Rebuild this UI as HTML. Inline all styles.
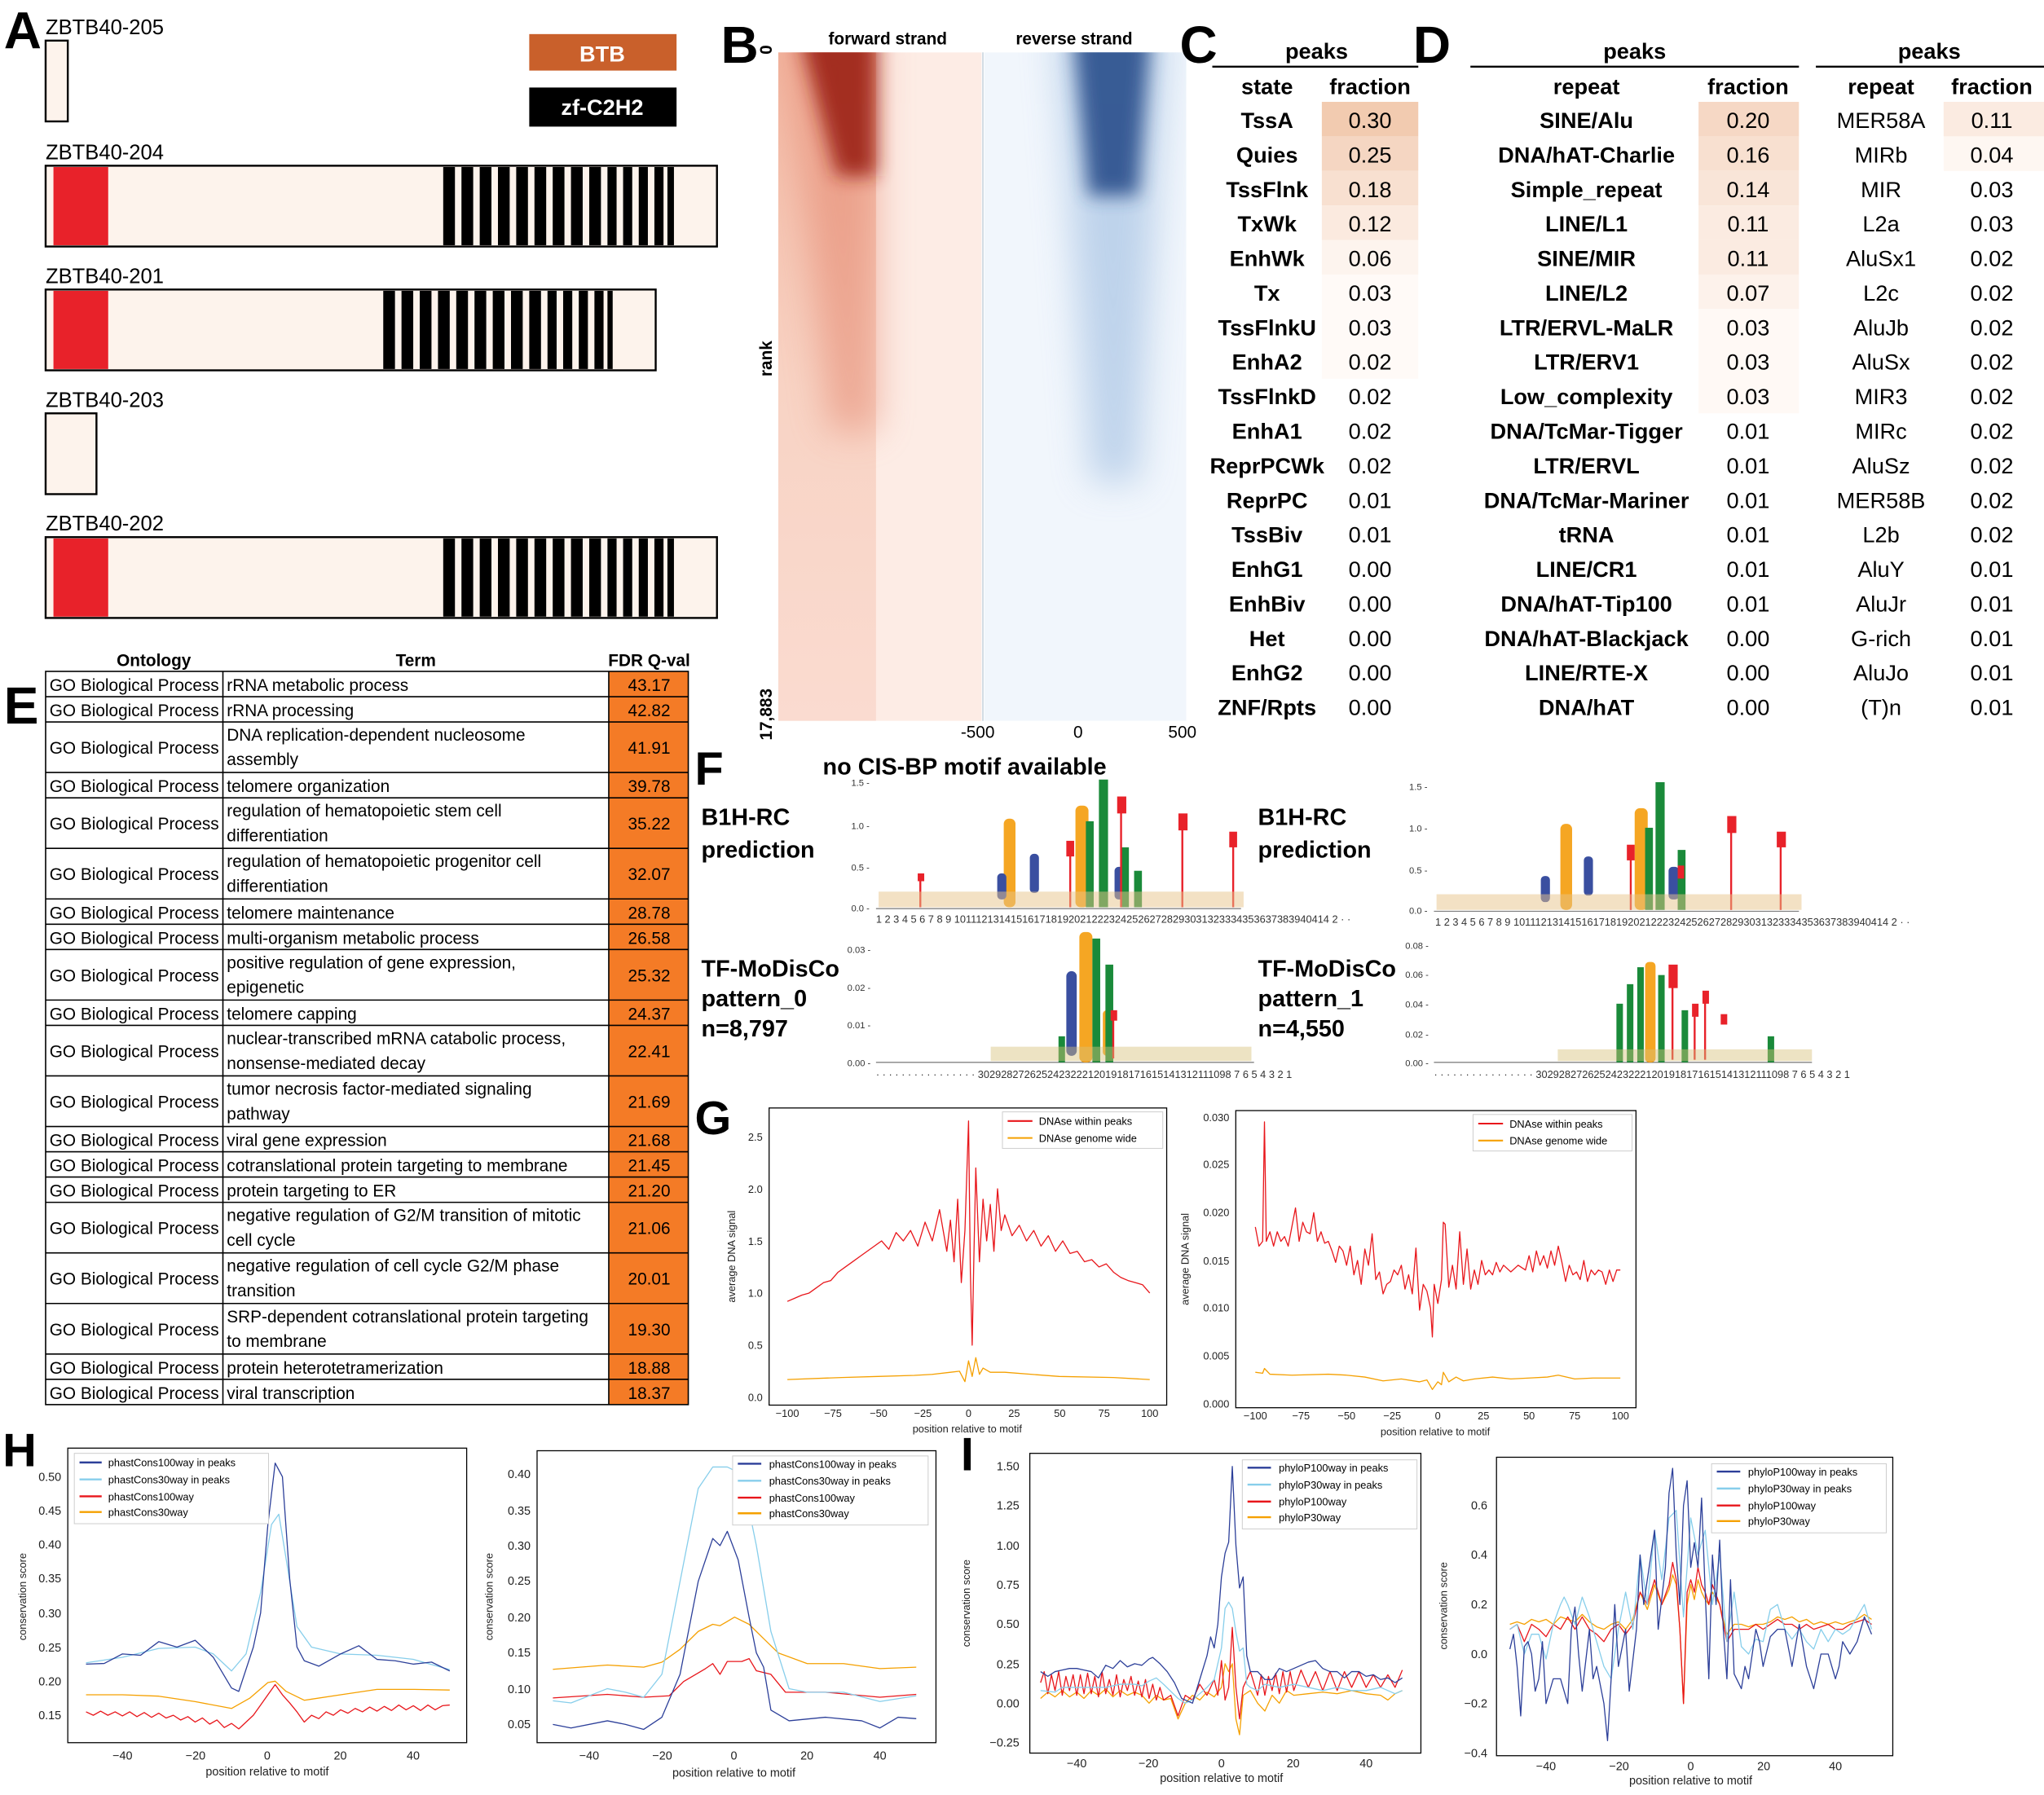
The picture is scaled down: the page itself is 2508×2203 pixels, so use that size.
<!DOCTYPE html>
<html><head><meta charset="utf-8"><style>
html,body{margin:0;padding:0;background:#fff}
svg{display:block}
text{font-family:"Liberation Sans",sans-serif}
.b{font-weight:bold}
.t{font-size:17px;font-weight:bold;text-anchor:middle}
.n{font-size:17px;text-anchor:middle}
.e{font-size:13px}
.k{font-size:8px;fill:#222}
.k9{font-size:9px;fill:#222}
.ax{fill:none;stroke:#000;stroke-width:0.8}
.s{fill:none;stroke-width:1.3;vector-effect:non-scaling-stroke;stroke-linejoin:round}
.lg{font-size:8px}
</style></head><body>
<svg width="2508" height="2203" viewBox="0 0 1568 1377" xmlns="http://www.w3.org/2000/svg">
<defs>
<filter id="bl" x="-50%" y="-50%" width="200%" height="200%"><feGaussianBlur stdDeviation="7"/></filter>
<filter id="bl2" x="-50%" y="-50%" width="200%" height="200%"><feGaussianBlur stdDeviation="14"/></filter>
<linearGradient id="rs" x1="0" y1="0" x2="0" y2="1"><stop offset="0" stop-color="#f3b9a4"/><stop offset="0.5" stop-color="#f8d3c4"/><stop offset="1" stop-color="#fadbd0"/></linearGradient>
</defs>

<!-- Panel A -->
<text x="3" y="37" class="b" font-size="40">A</text>
<g font-size="16">
<text x="35" y="26">ZBTB40-205</text>
<text x="35" y="122">ZBTB40-204</text>
<text x="35" y="217">ZBTB40-201</text>
<text x="35" y="312">ZBTB40-203</text>
<text x="35" y="407">ZBTB40-202</text>
</g>
<g stroke="#000" stroke-width="1.5" fill="#fdf3ec">
<rect x="35" y="31" width="17" height="62"/>
<rect x="35" y="127" width="515" height="62"/>
<rect x="35" y="222" width="468" height="62"/>
<rect x="35" y="317" width="39" height="62"/>
<rect x="35" y="412" width="515" height="62"/>
</g>
<g fill="#e8222a"><rect x="41" y="128" width="42" height="60"/><rect x="41" y="223" width="42" height="60"/><rect x="41" y="413" width="42" height="60"/></g>
<g fill="#000">
<rect x="340" y="128" width="9" height="60"/><rect x="354" y="128" width="9" height="60"/><rect x="368" y="128" width="9" height="60"/><rect x="382" y="128" width="9" height="60"/><rect x="396" y="128" width="9" height="60"/><rect x="410" y="128" width="9" height="60"/><rect x="424" y="128" width="9" height="60"/><rect x="438" y="128" width="9" height="60"/><rect x="452" y="128" width="9" height="60"/><rect x="466" y="128" width="7" height="60"/><rect x="478" y="128" width="7" height="60"/><rect x="490" y="128" width="7" height="60"/><rect x="502" y="128" width="7" height="60"/><rect x="512" y="128" width="5" height="60"/>
<rect x="294" y="223" width="9" height="60"/><rect x="308" y="223" width="9" height="60"/><rect x="322" y="223" width="9" height="60"/><rect x="336" y="223" width="9" height="60"/><rect x="350" y="223" width="9" height="60"/><rect x="364" y="223" width="9" height="60"/><rect x="378" y="223" width="9" height="60"/><rect x="392" y="223" width="9" height="60"/><rect x="406" y="223" width="9" height="60"/><rect x="420" y="223" width="7" height="60"/><rect x="432" y="223" width="7" height="60"/><rect x="444" y="223" width="7" height="60"/><rect x="456" y="223" width="7" height="60"/><rect x="466" y="223" width="4" height="60"/>
<rect x="340" y="413" width="9" height="60"/><rect x="354" y="413" width="9" height="60"/><rect x="368" y="413" width="9" height="60"/><rect x="382" y="413" width="9" height="60"/><rect x="396" y="413" width="9" height="60"/><rect x="410" y="413" width="9" height="60"/><rect x="424" y="413" width="9" height="60"/><rect x="438" y="413" width="9" height="60"/><rect x="452" y="413" width="9" height="60"/><rect x="466" y="413" width="7" height="60"/><rect x="478" y="413" width="7" height="60"/><rect x="490" y="413" width="7" height="60"/><rect x="502" y="413" width="7" height="60"/><rect x="512" y="413" width="5" height="60"/>
</g>
<rect x="406" y="26" width="113" height="28" fill="#c9602b"/>
<text x="462" y="47" fill="#fff" class="b" font-size="17" text-anchor="middle">BTB</text>
<rect x="406" y="67" width="113" height="30" fill="#000"/>
<text x="462" y="88" fill="#fff" class="b" font-size="17" text-anchor="middle">zf-C2H2</text>

<!-- Panel B -->
<text x="553" y="48" class="b" font-size="40">B</text>
<svg x="597" y="40" width="156" height="513" overflow="hidden">
<rect x="0" y="0" width="156" height="513" fill="#fdece5"/>
<rect x="0" y="0" width="75" height="513" fill="url(#rs)"/>
<polygon points="5,-20 75,-20 75,290 40,290" fill="#e58a72" opacity="0.6" filter="url(#bl2)"/>
<polygon points="15,-20 75,-20 75,95 45,95" fill="#9c2318" opacity="0.9" filter="url(#bl)"/>
</svg>
<svg x="755" y="40" width="155" height="513" overflow="hidden">
<rect x="0" y="0" width="155" height="513" fill="#f1f6fc"/>
<polygon points="55,-20 140,-20 118,330 82,330" fill="#9bbbe0" opacity="0.6" filter="url(#bl2)"/>
<polygon points="68,-20 128,-20 118,110 80,110" fill="#2c4f8c" opacity="0.9" filter="url(#bl)"/>
</svg>
<line x1="754" y1="40" x2="754" y2="553" stroke="#c8d4de" stroke-width="1"/>
<text x="681" y="34" class="b" font-size="13" text-anchor="middle">forward strand</text>
<text x="824" y="34" class="b" font-size="13" text-anchor="middle">reverse strand</text>
<text transform="translate(592,275) rotate(-90)" class="b" font-size="13" text-anchor="middle">rank</text>
<text transform="translate(592,38) rotate(-90)" class="b" font-size="13" text-anchor="middle">0</text>
<text transform="translate(592,548) rotate(-90)" class="b" font-size="13" text-anchor="middle">17,883</text>
<text x="750" y="566" font-size="13" text-anchor="middle">-500</text>
<text x="827" y="566" font-size="13" text-anchor="middle">0</text>
<text x="907" y="566" font-size="13" text-anchor="middle">500</text>

<!-- Panel C -->
<text x="905" y="48" class="b" font-size="40">C</text>
<text x="1010" y="45" class="t">peaks</text>
<line x1="930" y1="51" x2="1088" y2="51" stroke="#000" stroke-width="1.5"/>
<text x="972" y="72" class="t">state</text><text x="1051" y="72" class="t">fraction</text>
<rect x="1014" y="78" width="74" height="26.5" fill="#f2cbb0"/>
<rect x="1014" y="104.5" width="74" height="26.5" fill="#f5d6c2"/>
<rect x="1014" y="131" width="74" height="26.5" fill="#f8e0d0"/>
<rect x="1014" y="157.5" width="74" height="26.5" fill="#fbeadf"/>
<rect x="1014" y="184" width="74" height="26.5" fill="#fdf4ee"/>
<rect x="1014" y="210.5" width="74" height="80" fill="#fffaf7"/>
<g>
<text x="972" y="98" class="t">TssA</text><text x="1051" y="98" class="n">0.30</text>
<text x="972" y="124.5" class="t">Quies</text><text x="1051" y="124.5" class="n">0.25</text>
<text x="972" y="151" class="t">TssFlnk</text><text x="1051" y="151" class="n">0.18</text>
<text x="972" y="177.5" class="t">TxWk</text><text x="1051" y="177.5" class="n">0.12</text>
<text x="972" y="204" class="t">EnhWk</text><text x="1051" y="204" class="n">0.06</text>
<text x="972" y="230.5" class="t">Tx</text><text x="1051" y="230.5" class="n">0.03</text>
<text x="972" y="257" class="t">TssFlnkU</text><text x="1051" y="257" class="n">0.03</text>
<text x="972" y="283.5" class="t">EnhA2</text><text x="1051" y="283.5" class="n">0.02</text>
<text x="972" y="310" class="t">TssFlnkD</text><text x="1051" y="310" class="n">0.02</text>
<text x="972" y="336.5" class="t">EnhA1</text><text x="1051" y="336.5" class="n">0.02</text>
<text x="972" y="363" class="t">ReprPCWk</text><text x="1051" y="363" class="n">0.02</text>
<text x="972" y="389.5" class="t">ReprPC</text><text x="1051" y="389.5" class="n">0.01</text>
<text x="972" y="416" class="t">TssBiv</text><text x="1051" y="416" class="n">0.01</text>
<text x="972" y="442.5" class="t">EnhG1</text><text x="1051" y="442.5" class="n">0.00</text>
<text x="972" y="469" class="t">EnhBiv</text><text x="1051" y="469" class="n">0.00</text>
<text x="972" y="495.5" class="t">Het</text><text x="1051" y="495.5" class="n">0.00</text>
<text x="972" y="522" class="t">EnhG2</text><text x="1051" y="522" class="n">0.00</text>
<text x="972" y="548.5" class="t">ZNF/Rpts</text><text x="1051" y="548.5" class="n">0.00</text>
</g>

<!-- Panel D -->
<text x="1084" y="48" class="b" font-size="40">D</text>
<text x="1254" y="45" class="t">peaks</text>
<line x1="1128" y1="51" x2="1380" y2="51" stroke="#000" stroke-width="1.5"/>
<text x="1480" y="45" class="t">peaks</text>
<line x1="1393" y1="51" x2="1568" y2="51" stroke="#000" stroke-width="1.5"/>
<text x="1217" y="72" class="t">repeat</text><text x="1341" y="72" class="t">fraction</text>
<text x="1443" y="72" class="t">repeat</text><text x="1528" y="72" class="t">fraction</text>
<rect x="1303" y="78" width="77" height="26.5" fill="#f6d8c5"/>
<rect x="1303" y="104.5" width="77" height="26.5" fill="#f8e0d0"/>
<rect x="1303" y="131" width="77" height="26.5" fill="#f9e5d8"/>
<rect x="1303" y="157.5" width="77" height="26.5" fill="#fbebe1"/>
<rect x="1303" y="184" width="77" height="26.5" fill="#fbebe1"/>
<rect x="1303" y="210.5" width="77" height="26.5" fill="#fdf2eb"/>
<rect x="1303" y="237" width="77" height="80" fill="#fff9f5"/>
<rect x="1491" y="78" width="77" height="26.5" fill="#fbebe1"/>
<rect x="1491" y="104.5" width="77" height="26.5" fill="#fef7f2"/>
<g>
<text x="1217" y="98" class="t">SINE/Alu</text><text x="1341" y="98" class="n">0.20</text><text x="1443" y="98" class="n">MER58A</text><text x="1528" y="98" class="n">0.11</text>
<text x="1217" y="124.5" class="t">DNA/hAT-Charlie</text><text x="1341" y="124.5" class="n">0.16</text><text x="1443" y="124.5" class="n">MIRb</text><text x="1528" y="124.5" class="n">0.04</text>
<text x="1217" y="151" class="t">Simple_repeat</text><text x="1341" y="151" class="n">0.14</text><text x="1443" y="151" class="n">MIR</text><text x="1528" y="151" class="n">0.03</text>
<text x="1217" y="177.5" class="t">LINE/L1</text><text x="1341" y="177.5" class="n">0.11</text><text x="1443" y="177.5" class="n">L2a</text><text x="1528" y="177.5" class="n">0.03</text>
<text x="1217" y="204" class="t">SINE/MIR</text><text x="1341" y="204" class="n">0.11</text><text x="1443" y="204" class="n">AluSx1</text><text x="1528" y="204" class="n">0.02</text>
<text x="1217" y="230.5" class="t">LINE/L2</text><text x="1341" y="230.5" class="n">0.07</text><text x="1443" y="230.5" class="n">L2c</text><text x="1528" y="230.5" class="n">0.02</text>
<text x="1217" y="257" class="t">LTR/ERVL-MaLR</text><text x="1341" y="257" class="n">0.03</text><text x="1443" y="257" class="n">AluJb</text><text x="1528" y="257" class="n">0.02</text>
<text x="1217" y="283.5" class="t">LTR/ERV1</text><text x="1341" y="283.5" class="n">0.03</text><text x="1443" y="283.5" class="n">AluSx</text><text x="1528" y="283.5" class="n">0.02</text>
<text x="1217" y="310" class="t">Low_complexity</text><text x="1341" y="310" class="n">0.03</text><text x="1443" y="310" class="n">MIR3</text><text x="1528" y="310" class="n">0.02</text>
<text x="1217" y="336.5" class="t">DNA/TcMar-Tigger</text><text x="1341" y="336.5" class="n">0.01</text><text x="1443" y="336.5" class="n">MIRc</text><text x="1528" y="336.5" class="n">0.02</text>
<text x="1217" y="363" class="t">LTR/ERVL</text><text x="1341" y="363" class="n">0.01</text><text x="1443" y="363" class="n">AluSz</text><text x="1528" y="363" class="n">0.02</text>
<text x="1217" y="389.5" class="t">DNA/TcMar-Mariner</text><text x="1341" y="389.5" class="n">0.01</text><text x="1443" y="389.5" class="n">MER58B</text><text x="1528" y="389.5" class="n">0.02</text>
<text x="1217" y="416" class="t">tRNA</text><text x="1341" y="416" class="n">0.01</text><text x="1443" y="416" class="n">L2b</text><text x="1528" y="416" class="n">0.02</text>
<text x="1217" y="442.5" class="t">LINE/CR1</text><text x="1341" y="442.5" class="n">0.01</text><text x="1443" y="442.5" class="n">AluY</text><text x="1528" y="442.5" class="n">0.01</text>
<text x="1217" y="469" class="t">DNA/hAT-Tip100</text><text x="1341" y="469" class="n">0.01</text><text x="1443" y="469" class="n">AluJr</text><text x="1528" y="469" class="n">0.01</text>
<text x="1217" y="495.5" class="t">DNA/hAT-Blackjack</text><text x="1341" y="495.5" class="n">0.00</text><text x="1443" y="495.5" class="n">G-rich</text><text x="1528" y="495.5" class="n">0.01</text>
<text x="1217" y="522" class="t">LINE/RTE-X</text><text x="1341" y="522" class="n">0.00</text><text x="1443" y="522" class="n">AluJo</text><text x="1528" y="522" class="n">0.01</text>
<text x="1217" y="548.5" class="t">DNA/hAT</text><text x="1341" y="548.5" class="n">0.00</text><text x="1443" y="548.5" class="n">(T)n</text><text x="1528" y="548.5" class="n">0.01</text>
</g>

<!-- Panel E -->
<text x="3" y="555" class="b" font-size="40">E</text>
<text x="118" y="511" class="b" font-size="13" text-anchor="middle">Ontology</text>
<text x="319" y="511" class="b" font-size="13" text-anchor="middle">Term</text>
<text x="498" y="511" class="b" font-size="13" text-anchor="middle">FDR Q-val</text>
<rect x="467" y="515" width="61" height="562.6" fill="#f47b26"/>
<g stroke="#000" stroke-width="1">
<rect x="35" y="515" width="493" height="562.6" fill="none"/>
<line x1="171" y1="515" x2="171" y2="1077.6"/><line x1="467" y1="515" x2="467" y2="1077.6"/>
<line x1="35" y1="534.4" x2="528" y2="534.4"/><line x1="35" y1="553.8" x2="528" y2="553.8"/><line x1="35" y1="592.6" x2="528" y2="592.6"/><line x1="35" y1="612" x2="528" y2="612"/><line x1="35" y1="650.8" x2="528" y2="650.8"/><line x1="35" y1="689.6" x2="528" y2="689.6"/><line x1="35" y1="709" x2="528" y2="709"/><line x1="35" y1="728.4" x2="528" y2="728.4"/><line x1="35" y1="767.2" x2="528" y2="767.2"/><line x1="35" y1="786.6" x2="528" y2="786.6"/><line x1="35" y1="825.4" x2="528" y2="825.4"/><line x1="35" y1="864.2" x2="528" y2="864.2"/><line x1="35" y1="883.6" x2="528" y2="883.6"/><line x1="35" y1="903" x2="528" y2="903"/><line x1="35" y1="922.4" x2="528" y2="922.4"/><line x1="35" y1="961.2" x2="528" y2="961.2"/><line x1="35" y1="1000" x2="528" y2="1000"/><line x1="35" y1="1038.8" x2="528" y2="1038.8"/><line x1="35" y1="1058.2" x2="528" y2="1058.2"/>
</g>
<g class="e">
<text x="38" y="530">GO Biological Process</text><text x="174" y="530">rRNA metabolic process</text><text x="498" y="530" text-anchor="middle">43.17</text>
<text x="38" y="549.4">GO Biological Process</text><text x="174" y="549.4">rRNA processing</text><text x="498" y="549.4" text-anchor="middle">42.82</text>
<text x="38" y="578">GO Biological Process</text><text x="174" y="568">DNA replication-dependent nucleosome</text><text x="174" y="587">assembly</text><text x="498" y="578" text-anchor="middle">41.91</text>
<text x="38" y="607.6">GO Biological Process</text><text x="174" y="607.6">telomere organization</text><text x="498" y="607.6" text-anchor="middle">39.78</text>
<text x="38" y="636.4">GO Biological Process</text><text x="174" y="626.4">regulation of hematopoietic stem cell</text><text x="174" y="645.4">differentiation</text><text x="498" y="636.4" text-anchor="middle">35.22</text>
<text x="38" y="675.2">GO Biological Process</text><text x="174" y="665.2">regulation of hematopoietic progenitor cell</text><text x="174" y="684.2">differentiation</text><text x="498" y="675.2" text-anchor="middle">32.07</text>
<text x="38" y="704.6">GO Biological Process</text><text x="174" y="704.6">telomere maintenance</text><text x="498" y="704.6" text-anchor="middle">28.78</text>
<text x="38" y="724">GO Biological Process</text><text x="174" y="724">multi-organism metabolic process</text><text x="498" y="724" text-anchor="middle">26.58</text>
<text x="38" y="752.8">GO Biological Process</text><text x="174" y="742.8">positive regulation of gene expression,</text><text x="174" y="761.8">epigenetic</text><text x="498" y="752.8" text-anchor="middle">25.32</text>
<text x="38" y="782.2">GO Biological Process</text><text x="174" y="782.2">telomere capping</text><text x="498" y="782.2" text-anchor="middle">24.37</text>
<text x="38" y="811">GO Biological Process</text><text x="174" y="801">nuclear-transcribed mRNA catabolic process,</text><text x="174" y="820">nonsense-mediated decay</text><text x="498" y="811" text-anchor="middle">22.41</text>
<text x="38" y="849.8">GO Biological Process</text><text x="174" y="839.8">tumor necrosis factor-mediated signaling</text><text x="174" y="858.8">pathway</text><text x="498" y="849.8" text-anchor="middle">21.69</text>
<text x="38" y="879.2">GO Biological Process</text><text x="174" y="879.2">viral gene expression</text><text x="498" y="879.2" text-anchor="middle">21.68</text>
<text x="38" y="898.6">GO Biological Process</text><text x="174" y="898.6">cotranslational protein targeting to membrane</text><text x="498" y="898.6" text-anchor="middle">21.45</text>
<text x="38" y="918">GO Biological Process</text><text x="174" y="918">protein targeting to ER</text><text x="498" y="918" text-anchor="middle">21.20</text>
<text x="38" y="946.8">GO Biological Process</text><text x="174" y="936.8">negative regulation of G2/M transition of mitotic</text><text x="174" y="955.8">cell cycle</text><text x="498" y="946.8" text-anchor="middle">21.06</text>
<text x="38" y="985.6">GO Biological Process</text><text x="174" y="975.6">negative regulation of cell cycle G2/M phase</text><text x="174" y="994.6">transition</text><text x="498" y="985.6" text-anchor="middle">20.01</text>
<text x="38" y="1024.4">GO Biological Process</text><text x="174" y="1014.4">SRP-dependent cotranslational protein targeting</text><text x="174" y="1033.4">to membrane</text><text x="498" y="1024.4" text-anchor="middle">19.30</text>
<text x="38" y="1053.8">GO Biological Process</text><text x="174" y="1053.8">protein heterotetramerization</text><text x="498" y="1053.8" text-anchor="middle">18.88</text>
<text x="38" y="1073.2">GO Biological Process</text><text x="174" y="1073.2">viral transcription</text><text x="498" y="1073.2" text-anchor="middle">18.37</text>
</g>

<!-- Panel F -->
<text x="533" y="602" class="b" font-size="36">F</text>
<text x="740" y="594" class="b" font-size="18" text-anchor="middle">no CIS-BP motif available</text>
<g class="b" font-size="18">
<text x="538" y="633">B1H-RC</text><text x="538" y="658">prediction</text>
<text x="965" y="633">B1H-RC</text><text x="965" y="658">prediction</text>
<text x="538" y="749">TF-MoDisCo</text><text x="538" y="772">pattern_0</text><text x="538" y="795">n=8,797</text>
<text x="965" y="749">TF-MoDisCo</text><text x="965" y="772">pattern_1</text><text x="965" y="795">n=4,550</text>
</g>
<g font-size="7" fill="#333">
<text x="653" y="603">1.5 -</text><text x="653" y="636">1.0 -</text><text x="653" y="668">0.5 -</text><text x="653" y="699">0.0 -</text>
<text x="1081" y="606">1.5 -</text><text x="1081" y="638">1.0 -</text><text x="1081" y="670">0.5 -</text><text x="1081" y="701">0.0 -</text>
<text x="650" y="731">0.03 -</text><text x="650" y="760">0.02 -</text><text x="650" y="789">0.01 -</text><text x="650" y="818">0.00 -</text>
<text x="1078" y="728">0.08 -</text><text x="1078" y="750">0.06 -</text><text x="1078" y="773">0.04 -</text><text x="1078" y="796">0.02 -</text><text x="1078" y="818">0.00 -</text>
<text x="672" y="708" font-size="8">1 2 3 4 5 6 7 8 9 10111213141516171819202122232425262728293031323334353637383940414 2 · ·</text>
<text x="1101" y="710" font-size="8">1 2 3 4 5 6 7 8 9 10111213141516171819202122232425262728293031323334353637383940414 2 · ·</text>
<text x="672" y="827" font-size="8">· · · · · · · · · · · · · · · · 30292827262524232221201918171615141312111098 7 6 5 4 3 2 1</text>
<text x="1100" y="827" font-size="8">· · · · · · · · · · · · · · · · 30292827262524232221201918171615141312111098 7 6 5 4 3 2 1</text>
</g>
<g stroke="#555" stroke-width="0.6"><line x1="672" y1="697" x2="952" y2="697"/><line x1="1100" y1="699" x2="1380" y2="699"/><line x1="672" y1="815" x2="962" y2="815"/><line x1="1100" y1="815" x2="1390" y2="815"/></g>
<g>
<g fill="#f5a623"><rect x="770" y="628" width="9" height="68" rx="4"/><rect x="825" y="618" width="10" height="78" rx="4"/></g>
<g fill="#3a4fa0"><rect x="765" y="670" width="7" height="20" rx="3"/><rect x="790" y="655" width="7" height="30" rx="3"/><rect x="855" y="665" width="8" height="25" rx="3"/></g>
<g fill="#1a8a3a"><rect x="833" y="630" width="6" height="66"/><rect x="843" y="598" width="7" height="98"/><rect x="860" y="650" width="6" height="46"/><rect x="870" y="668" width="6" height="28"/></g>
<g fill="#e8222a"><rect x="818" y="645" width="6" height="12"/><rect x="857" y="611" width="7" height="13"/><rect x="904" y="624" width="7" height="13"/><rect x="943" y="638" width="6" height="12"/><rect x="704" y="670" width="5" height="6"/></g>
<g stroke="#e8222a" stroke-width="1.5"><line x1="821" y1="650" x2="821" y2="696"/><line x1="860" y1="615" x2="860" y2="696"/><line x1="907" y1="630" x2="907" y2="696"/><line x1="946" y1="642" x2="946" y2="696"/><line x1="706" y1="672" x2="706" y2="696"/></g>
<rect x="674" y="684" width="280" height="12" fill="#e8c38a" opacity="0.5"/>
<g fill="#f5a623"><rect x="1197" y="632" width="9" height="66" rx="4"/><rect x="1254" y="620" width="10" height="78" rx="4"/></g>
<g fill="#3a4fa0"><rect x="1182" y="672" width="7" height="20" rx="3"/><rect x="1215" y="657" width="7" height="30" rx="3"/><rect x="1280" y="665" width="8" height="25" rx="3"/></g>
<g fill="#1a8a3a"><rect x="1262" y="635" width="6" height="63"/><rect x="1270" y="600" width="7" height="98"/><rect x="1287" y="652" width="6" height="46"/></g>
<g fill="#e8222a"><rect x="1248" y="648" width="6" height="12"/><rect x="1325" y="626" width="7" height="13"/><rect x="1363" y="638" width="7" height="12"/><rect x="1287" y="664" width="5" height="10"/></g>
<g stroke="#e8222a" stroke-width="1.5"><line x1="1251" y1="652" x2="1251" y2="698"/><line x1="1328" y1="630" x2="1328" y2="698"/><line x1="1366" y1="642" x2="1366" y2="698"/></g>
<rect x="1102" y="686" width="280" height="12" fill="#e8c38a" opacity="0.5"/>
<g fill="#3a4fa0"><rect x="818" y="745" width="8" height="65" rx="4"/></g>
<g fill="#f5a623"><rect x="828" y="715" width="10" height="100" rx="4"/><rect x="846" y="775" width="7" height="35" rx="3"/></g>
<g fill="#1a8a3a"><rect x="838" y="720" width="6" height="95"/><rect x="848" y="740" width="6" height="75"/><rect x="812" y="795" width="5" height="20"/></g>
<rect x="852" y="775" width="5" height="8" fill="#e8222a"/><line x1="854" y1="780" x2="854" y2="812" stroke="#e8222a" stroke-width="1.5"/>
<rect x="760" y="803" width="200" height="11" fill="#d7c07a" opacity="0.45"/>
<g fill="#1a8a3a"><rect x="1240" y="770" width="5" height="45"/><rect x="1248" y="755" width="5" height="60"/><rect x="1256" y="742" width="5" height="73"/><rect x="1272" y="748" width="5" height="67"/><rect x="1290" y="775" width="5" height="40"/><rect x="1356" y="795" width="5" height="20"/></g>
<rect x="1262" y="738" width="8" height="77" rx="3" fill="#f5a623"/>
<g fill="#e8222a"><rect x="1280" y="740" width="7" height="18"/><rect x="1298" y="770" width="5" height="10"/><rect x="1306" y="760" width="5" height="10"/><rect x="1320" y="778" width="5" height="8"/></g>
<g stroke="#e8222a" stroke-width="1.5"><line x1="1283" y1="750" x2="1283" y2="813"/><line x1="1300" y1="775" x2="1300" y2="813"/><line x1="1308" y1="765" x2="1308" y2="813"/></g>
<rect x="1195" y="805" width="195" height="9" fill="#d7c07a" opacity="0.45"/>
</g>

<!-- Panel G -->
<text x="533" y="870" class="b" font-size="36">G</text>
<rect x="590" y="850" width="305" height="228" class="ax"/>
<rect x="948" y="852" width="307" height="228" class="ax"/>
<g class="k" text-anchor="end">
<text x="585" y="1075">0.0</text><text x="585" y="1035">0.5</text><text x="585" y="995">1.0</text><text x="585" y="955">1.5</text><text x="585" y="915">2.0</text><text x="585" y="875">2.5</text>
<text x="943" y="1080">0.000</text><text x="943" y="1043">0.005</text><text x="943" y="1006">0.010</text><text x="943" y="970">0.015</text><text x="943" y="933">0.020</text><text x="943" y="896">0.025</text><text x="943" y="860">0.030</text>
</g>
<g class="k" text-anchor="middle">
<text x="604" y="1087">−100</text><text x="639" y="1087">−75</text><text x="674" y="1087">−50</text><text x="708" y="1087">−25</text><text x="743" y="1087">0</text><text x="778" y="1087">25</text><text x="813" y="1087">50</text><text x="847" y="1087">75</text><text x="882" y="1087">100</text>
<text x="963" y="1089">−100</text><text x="998" y="1089">−75</text><text x="1033" y="1089">−50</text><text x="1068" y="1089">−25</text><text x="1103" y="1089">0</text><text x="1138" y="1089">25</text><text x="1173" y="1089">50</text><text x="1208" y="1089">75</text><text x="1243" y="1089">100</text>
<text x="742" y="1099">position relative to motif</text><text x="1101" y="1101">position relative to motif</text>
</g>
<text transform="translate(564,964) rotate(-90)" class="k" text-anchor="middle">average DNA signal</text>
<text transform="translate(912,966) rotate(-90)" class="k" text-anchor="middle">average DNA signal</text>
<g transform="translate(743,1072) scale(1.39,-80)">
<polyline class="s" stroke="#f5a000" points="-100,.17 -70,.19 -50,.2 -30,.21 -20,.22 -10,.24 -5,.25 -2,.15 0,.35 2,.2 4,.38 6,.22 8,.28 12,.24 20,.24 50,.2 80,.19 100,.17"/>
<polyline class="s" stroke="#e8161b" points="-100,.92 -96,.95 -92,.98 -88,1.0 -84,1.05 -80,1.1 -76,1.12 -72,1.2 -68,1.25 -64,1.3 -60,1.35 -56,1.4 -52,1.45 -48,1.5 -44,1.42 -40,1.58 -36,1.5 -32,1.6 -28,1.45 -24,1.68 -20,1.5 -16,1.8 -12,1.4 -10,1.7 -8,1.3 -6,1.9 -4,1.1 -2,1.6 0,2.65 1,1.2 2,0.5 3,1.4 4,2.2 6,1.3 8,1.9 10,1.5 12,1.85 14,1.4 16,2.0 18,1.6 20,1.75 24,1.55 28,1.65 32,1.5 36,1.6 40,1.45 44,1.55 48,1.4 52,1.5 56,1.38 60,1.4 64,1.3 68,1.32 72,1.25 76,1.28 80,1.2 84,1.15 88,1.12 92,1.1 96,1.08 100,1.0"/>
</g>
<g transform="translate(1103,1077) scale(1.4,-7333)">
<polyline class="s" stroke="#f5a000" points="-100,.0033 -96,.0032 -95,.0037 -92,.0031 -80,.003 -60,.0031 -50,.003 -40,.0028 -30,.0024 -20,.0026 -10,.0023 -6,.0025 -3,.0015 0,.0023 2,.0020 3,.0033 6,.0023 10,.0028 14,.0024 20,.0026 30,.0028 40,.0026 50,.0027 60,.0028 66,.003 75,.0026 85,.0027 100,.0027"/>
<polyline class="s" stroke="#e8161b" points="-100,.0185 -98,.0165 -96,.017 -95,.0295 -94,.017 -92,.018 -90,.0165 -88,.018 -86,.017 -84,.0175 -82,.0165 -80,.0185 -78,.0205 -76,.017 -74,.019 -72,.018 -70,.0178 -68,.02 -66,.017 -64,.018 -62,.0168 -60,.017 -58,.016 -56,.0148 -54,.0165 -52,.016 -50,.0145 -48,.0165 -46,.0135 -44,.015 -42,.0125 -40,.0162 -38,.0145 -36,.0178 -34,.013 -32,.0138 -30,.0115 -28,.0125 -26,.0128 -24,.014 -22,.0135 -20,.0145 -18,.012 -16,.0135 -14,.0115 -12,.0163 -10,.0098 -8,.0125 -6,.0118 -4,.01 -3,.007 -2,.0125 0,.0105 2,.013 3,.019 4,.0188 6,.0122 8,.0145 10,.012 12,.018 14,.0125 16,.0162 18,.012 20,.014 22,.0125 24,.015 26,.0135 28,.014 30,.0135 32,.0148 34,.0138 36,.0145 40,.0138 44,.0145 48,.014 50,.0155 52,.0138 54,.016 56,.0145 58,.0155 60,.0142 62,.016 64,.0145 66,.0165 68,.0148 70,.0128 72,.0145 74,.0135 76,.0138 78,.013 80,.015 82,.0128 84,.014 86,.0135 88,.014 90,.0138 92,.0125 94,.014 96,.0128 98,.014 100,.014"/>
</g>
<g class="lg">
<rect x="769" y="853" width="123" height="28" fill="#fff" stroke="#ccc" stroke-width="0.6"/>
<line x1="773" y1="860" x2="792" y2="860" stroke="#e8161b" stroke-width="1.3"/><text x="797" y="863">DNAse within peaks</text>
<line x1="773" y1="873" x2="792" y2="873" stroke="#f5a000" stroke-width="1.3"/><text x="797" y="876">DNAse genome wide</text>
<rect x="1130" y="855" width="122" height="28" fill="#fff" stroke="#ccc" stroke-width="0.6"/>
<line x1="1134" y1="862" x2="1153" y2="862" stroke="#e8161b" stroke-width="1.3"/><text x="1158" y="865">DNAse within peaks</text>
<line x1="1134" y1="875" x2="1153" y2="875" stroke="#f5a000" stroke-width="1.3"/><text x="1158" y="878">DNAse genome wide</text>
</g>

<!-- Panel H -->
<text x="2" y="1125" class="b" font-size="36">H</text>
<rect x="52" y="1111" width="306" height="226" class="ax"/>
<rect x="412" y="1113" width="306" height="224" class="ax"/>
<g class="k9" text-anchor="end">
<text x="47" y="1136">0.50</text><text x="47" y="1162">0.45</text><text x="47" y="1188">0.40</text><text x="47" y="1214">0.35</text><text x="47" y="1241">0.30</text><text x="47" y="1267">0.25</text><text x="47" y="1293">0.20</text><text x="47" y="1319">0.15</text>
<text x="407" y="1134">0.40</text><text x="407" y="1162">0.35</text><text x="407" y="1189">0.30</text><text x="407" y="1216">0.25</text><text x="407" y="1244">0.20</text><text x="407" y="1271">0.15</text><text x="407" y="1299">0.10</text><text x="407" y="1326">0.05</text>
</g>
<g class="k9" text-anchor="middle">
<text x="94" y="1350">−40</text><text x="150" y="1350">−20</text><text x="205" y="1350">0</text><text x="261" y="1350">20</text><text x="317" y="1350">40</text>
<text x="452" y="1350">−40</text><text x="508" y="1350">−20</text><text x="563" y="1350">0</text><text x="619" y="1350">20</text><text x="675" y="1350">40</text>
<text x="205" y="1362">position relative to motif</text><text x="563" y="1363">position relative to motif</text>
</g>
<text transform="translate(20,1225) rotate(-90)" class="k" text-anchor="middle">conservation score</text>
<text transform="translate(378,1225) rotate(-90)" class="k" text-anchor="middle">conservation score</text>
<g transform="translate(205.5,1394.4) scale(2.79,-522.9)">
<polyline class="s" stroke="#f5a000" points="-50,.18 -40,.18 -30,.178 -20,.17 -10,.16 -5,.175 0,.198 2,.2 5,.185 10,.172 20,.18 30,.188 40,.188 50,.187"/>
<polyline class="s" stroke="#e8161b" points="-50,.155 -48,.15 -46,.156 -44,.15 -42,.155 -40,.149 -38,.155 -36,.148 -34,.154 -32,.147 -30,.153 -28,.146 -26,.15 -24,.143 -22,.148 -20,.14 -18,.146 -16,.137 -14,.143 -12,.132 -10,.138 -8,.13 -6,.14 -4,.15 -2,.165 0,.18 2,.195 4,.18 6,.168 8,.155 10,.14 12,.15 14,.145 16,.155 18,.15 20,.158 22,.153 24,.16 26,.155 28,.162 30,.156 32,.163 34,.157 36,.165 38,.158 40,.164 42,.157 44,.165 46,.158 48,.164 50,.165"/>
<polyline class="s" stroke="#87ceeb" points="-50,.227 -40,.235 -30,.248 -20,.25 -15,.24 -10,.215 -6,.24 -2,.33 1,.43 3,.445 5,.38 8,.28 12,.25 20,.24 30,.238 40,.232 50,.217"/>
<polyline class="s" stroke="#2c3f99" points="-50,.225 -45,.226 -40,.24 -35,.238 -30,.258 -25,.25 -20,.26 -15,.235 -10,.19 -8,.185 -4,.25 -2,.3 0,.43 2,.52 4,.5 6,.35 8,.25 10,.23 14,.222 20,.24 25,.252 30,.232 35,.23 40,.225 45,.228 50,.215"/>
</g>
<g transform="translate(563.5,1350.4) scale(2.7875,-548.6)">
<polyline class="s" stroke="#f5a000" points="-50,.127 -35,.133 -25,.13 -20,.137 -15,.155 -10,.18 -6,.19 -4,.188 0,.2 4,.19 8,.17 12,.15 20,.135 30,.135 40,.128 50,.13"/>
<polyline class="s" stroke="#e8161b" points="-50,.087 -35,.092 -25,.088 -18,.09 -14,.11 -8,.128 -6,.135 -4,.12 -2,.138 2,.138 4,.142 6,.125 10,.12 14,.095 25,.095 40,.088 50,.092"/>
<polyline class="s" stroke="#87ceeb" points="-50,.083 -45,.08 -35,.1 -30,.095 -25,.088 -20,.12 -15,.25 -10,.38 -6,.41 -2,.41 2,.4 6,.3 10,.18 15,.1 20,.095 30,.095 40,.082 50,.09"/>
<polyline class="s" stroke="#2c3f99" points="-50,.05 -45,.045 -35,.055 -30,.05 -25,.043 -20,.06 -15,.12 -10,.25 -6,.31 -4,.3 -2,.32 1,.28 4,.2 6,.15 8,.13 10,.07 15,.055 25,.06 35,.055 40,.045 45,.06 50,.058"/>
</g>
<g class="lg">
<rect x="57" y="1115" width="149" height="54" fill="#fff" stroke="#ccc" stroke-width="0.6"/>
<line x1="61" y1="1122" x2="78" y2="1122" stroke="#2c3f99" stroke-width="1.5"/><text x="83" y="1125">phastCons100way in peaks</text>
<line x1="61" y1="1135" x2="78" y2="1135" stroke="#87ceeb" stroke-width="1.5"/><text x="83" y="1138">phastCons30way in peaks</text>
<line x1="61" y1="1148" x2="78" y2="1148" stroke="#e8161b" stroke-width="1.5"/><text x="83" y="1151">phastCons100way</text>
<line x1="61" y1="1160" x2="78" y2="1160" stroke="#f5a000" stroke-width="1.5"/><text x="83" y="1163">phastCons30way</text>
<rect x="562" y="1117" width="150" height="53" fill="#fff" stroke="#ccc" stroke-width="0.6"/>
<line x1="566" y1="1123" x2="584" y2="1123" stroke="#2c3f99" stroke-width="1.5"/><text x="590" y="1126">phastCons100way in peaks</text>
<line x1="566" y1="1136" x2="584" y2="1136" stroke="#87ceeb" stroke-width="1.5"/><text x="590" y="1139">phastCons30way in peaks</text>
<line x1="566" y1="1149" x2="584" y2="1149" stroke="#e8161b" stroke-width="1.5"/><text x="590" y="1152">phastCons100way</text>
<line x1="566" y1="1161" x2="584" y2="1161" stroke="#f5a000" stroke-width="1.5"/><text x="590" y="1164">phastCons30way</text>
</g>

<!-- Panel I -->
<text x="737" y="1128" class="b" font-size="36">I</text>
<rect x="790" y="1115" width="300" height="230" class="ax"/>
<rect x="1148" y="1118" width="304" height="229" class="ax"/>
<g class="k9" text-anchor="end">
<text x="782" y="1128">1.50</text><text x="782" y="1158">1.25</text><text x="782" y="1189">1.00</text><text x="782" y="1219">0.75</text><text x="782" y="1249">0.50</text><text x="782" y="1280">0.25</text><text x="782" y="1310">0.00</text><text x="782" y="1340">−0.25</text>
<text x="1141" y="1158">0.6</text><text x="1141" y="1196">0.4</text><text x="1141" y="1234">0.2</text><text x="1141" y="1272">0.0</text><text x="1141" y="1310">−0.2</text><text x="1141" y="1348">−0.4</text>
</g>
<g class="k9" text-anchor="middle">
<text x="826" y="1356">−40</text><text x="881" y="1356">−20</text><text x="937" y="1356">0</text><text x="992" y="1356">20</text><text x="1048" y="1356">40</text>
<text x="1186" y="1358">−40</text><text x="1242" y="1358">−20</text><text x="1297" y="1358">0</text><text x="1353" y="1358">20</text><text x="1408" y="1358">40</text>
<text x="937" y="1367">position relative to motif</text><text x="1297" y="1369">position relative to motif</text>
</g>
<text transform="translate(744,1230) rotate(-90)" class="k" text-anchor="middle">conservation score</text>
<text transform="translate(1110,1232) rotate(-90)" class="k" text-anchor="middle">conservation score</text>
<g transform="translate(937,1306.7) scale(2.775,-121.1)">
<polyline class="s" stroke="#f5a000" points="-50,.03 -48,.07 -46,.04 -44,.08 -42,.04 -40,.07 -38,.03 -36,.08 -34,.05 -32,.09 -30,.04 -28,.08 -26,.05 -24,.07 -22,.05 -20,.0 -18,.05 -16,.02 -14,.03 -12,-.1 -10,.0 -8,.05 -6,.02 -4,.07 -2,.04 0,.1 1,.25 2,.2 3,.25 4,-.1 5,-.2 6,.05 8,.08 10,.0 12,-.05 14,.05 16,.0 18,.08 20,.05 24,.06 28,.07 32,.06 36,.08 40,.06 44,.05 46,.02 48,.06 50,.08"/>
<polyline class="s" stroke="#e8161b" points="-50,.13 -49,.2 -48,.06 -47,.18 -46,.08 -45,.2 -44,.05 -43,.17 -42,.08 -41,.18 -40,.05 -39,.18 -38,.06 -37,.19 -36,.06 -35,.17 -34,.04 -33,.2 -32,.06 -31,.15 -30,.05 -29,.18 -28,.04 -27,.15 -26,.08 -25,.17 -24,.05 -23,.14 -22,.04 -21,.15 -20,.03 -19,.12 -18,.02 -17,.1 -16,.02 -14,.05 -12,-.08 -10,.05 -8,.02 -6,.12 -4,.05 -2,.15 -1,.05 0,.27 1,.02 2,.1 3,.48 4,.1 5,-.1 6,.1 8,.2 10,.05 11,.18 12,.05 13,.17 14,.08 15,.19 16,.06 17,.2 18,.07 19,.2 20,.08 22,.21 24,.1 26,.2 28,.08 30,.2 32,.08 34,.2 36,.1 38,.2 40,.1 42,.18 44,.1 46,.18 48,.1 50,.21"/>
<polyline class="s" stroke="#87ceeb" points="-50,.08 -46,.07 -44,.1 -40,.1 -36,.1 -32,.1 -28,.12 -24,.12 -22,.11 -20,.14 -18,.16 -16,.12 -12,.03 -10,.0 -8,.02 -4,.1 -2,.15 0,.35 1,.6 2,.64 3,.6 4,.45 5,.33 6,.35 7,.12 8,.1 10,.08 12,.12 16,.1 20,.12 24,.1 28,.08 32,.1 36,.08 40,.08 44,.1 48,.06 50,.08"/>
<polyline class="s" stroke="#2c3f99" points="-50,.2 -48,.17 -46,.2 -44,.21 -42,.22 -40,.22 -38,.21 -36,.2 -34,.16 -32,.24 -30,.22 -28,.27 -26,.23 -24,.25 -22,.24 -20,.28 -19,.29 -17,.25 -15,.2 -13,.13 -11,.03 -10,.02 -8,.0 -6,.15 -4,.3 -3,.42 -2,.35 -1,.5 0,.8 1,.95 2,1.02 3,1.5 4,1.0 5,.73 6,.8 7,.3 8,.2 10,.2 12,.15 14,.15 16,.22 18,.2 20,.22 22,.24 24,.26 26,.27 28,.22 30,.2 32,.2 34,.16 36,.2 38,.2 40,.17 42,.18 44,.15 46,.16 48,.13 50,.16"/>
</g>
<g transform="translate(1297,1269) scale(2.775,-190)">
<polyline class="s" stroke="#f5a000" points="-50,.12 -48,.13 -46,.12 -44,.14 -42,.13 -40,.14 -38,.12 -36,.15 -34,.14 -32,.13 -30,.16 -28,.13 -26,.11 -24,.1 -22,.12 -20,.13 -18,.1 -16,.14 -14,.25 -12,.18 -10,.28 -8,.2 -6,.26 -5,.32 -4,.28 -3,.1 -2,-.2 -1,.2 0,.28 1,.22 2,.3 3,.25 4,.22 5,.2 6,.25 8,.2 10,.08 12,.12 14,.12 16,.11 18,.12 20,.12 22,.13 24,.15 26,.14 28,.15 30,.13 32,.14 34,.12 36,.13 38,.12 40,.13 42,.12 44,.13 46,.14 48,.16 50,.14"/>
<polyline class="s" stroke="#e8161b" points="-50,.1 -48,.12 -46,.05 -44,.12 -42,.1 -40,.07 -38,.12 -36,.1 -34,.15 -32,.1 -30,.15 -28,.1 -26,.08 -24,.05 -22,.1 -20,.12 -18,.08 -16,.12 -14,.25 -12,.2 -10,.3 -8,.2 -6,.28 -5,.37 -4,.3 -3,.1 -2,-.2 -1,.25 0,.3 1,.25 2,.35 3,.28 4,.25 5,.2 6,.28 8,.2 10,.05 12,.1 14,.1 16,.1 18,.12 20,.1 22,.12 24,.14 26,.12 28,.12 30,.1 32,.12 34,.1 36,.11 38,.12 40,.1 42,.1 44,.12 46,.13 48,.14 50,.12"/>
<polyline class="s" stroke="#87ceeb" points="-50,.1 -48,.12 -46,.0 -44,.08 -42,.08 -40,-.02 -38,.12 -36,.2 -35,.23 -34,.2 -32,.12 -30,.23 -28,.15 -26,.05 -24,-.05 -22,-.1 -20,.1 -18,.25 -16,.1 -14,.4 -12,.2 -10,.5 -8,.3 -6,.55 -4,.58 -2,.15 0,.55 2,.4 4,.5 6,.2 8,.4 10,.05 12,.25 14,.03 16,.0 18,.06 20,.05 22,.18 24,.2 26,.1 28,.06 30,.1 32,.05 34,.02 36,.1 38,.05 40,.1 42,.08 44,.1 46,.15 48,.2 50,.1"/>
<polyline class="s" stroke="#2c3f99" points="-50,.02 -49,.08 -48,-.05 -47,-.25 -46,.03 -45,.05 -44,0 -43,-.15 -42,-.1 -41,.05 -40,-.2 -38,-.1 -36,-.1 -34,-.2 -33,.1 -32,.19 -31,.0 -30,-.15 -28,.1 -27,-.1 -26,-.05 -24,-.2 -23,-.35 -22,-.1 -21,.2 -20,-.05 -18,.1 -17,-.15 -15,.1 -14,.4 -13,.2 -12,.3 -10,.5 -9,.1 -7,.35 -6,.65 -5,.75 -4,.4 -3,.2 -2,.6 -1,.7 0,.35 1,.45 2,.35 3,.63 4,.25 5,-.1 6,.4 7,.2 8,.46 9,.1 10,-.1 11,.3 12,-.08 14,-.14 15,-.05 16,-.1 18,.1 19,.05 20,-.05 22,.07 24,.1 26,.1 28,-.05 30,.12 32,-.05 34,-.14 36,.0 38,.0 40,-.1 41,-.05 42,.05 44,.0 46,.05 48,.15 50,.08"/>
</g>
<g class="lg">
<rect x="953" y="1120" width="134" height="53" fill="#fff" stroke="#ccc" stroke-width="0.6"/>
<line x1="957" y1="1126" x2="975" y2="1126" stroke="#2c3f99" stroke-width="1.5"/><text x="981" y="1129">phyloP100way in peaks</text>
<line x1="957" y1="1139" x2="975" y2="1139" stroke="#87ceeb" stroke-width="1.5"/><text x="981" y="1142">phyloP30way in peaks</text>
<line x1="957" y1="1152" x2="975" y2="1152" stroke="#e8161b" stroke-width="1.5"/><text x="981" y="1155">phyloP100way</text>
<line x1="957" y1="1164" x2="975" y2="1164" stroke="#f5a000" stroke-width="1.5"/><text x="981" y="1167">phyloP30way</text>
<rect x="1313" y="1123" width="134" height="53" fill="#fff" stroke="#ccc" stroke-width="0.6"/>
<line x1="1317" y1="1129" x2="1335" y2="1129" stroke="#2c3f99" stroke-width="1.5"/><text x="1341" y="1132">phyloP100way in peaks</text>
<line x1="1317" y1="1142" x2="1335" y2="1142" stroke="#87ceeb" stroke-width="1.5"/><text x="1341" y="1145">phyloP30way in peaks</text>
<line x1="1317" y1="1155" x2="1335" y2="1155" stroke="#e8161b" stroke-width="1.5"/><text x="1341" y="1158">phyloP100way</text>
<line x1="1317" y1="1167" x2="1335" y2="1167" stroke="#f5a000" stroke-width="1.5"/><text x="1341" y="1170">phyloP30way</text>
</g>
</svg>
</body></html>
